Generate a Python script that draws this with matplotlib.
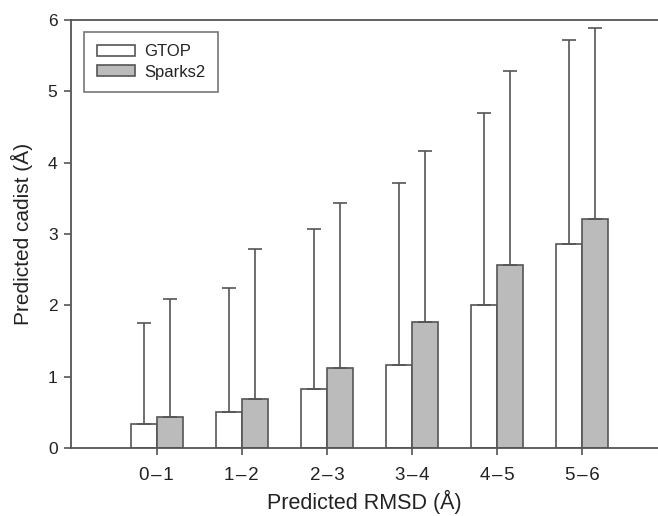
import matplotlib
matplotlib.use("Agg")
import matplotlib.pyplot as plt
import numpy as np

plt.rcParams['font.family'] = ['Liberation Sans', 'DejaVu Sans']

categories = ["0\u200a\u2013\u200a1", "1\u200a\u2013\u200a2", "2\u200a\u2013\u200a3",
              "3\u200a\u2013\u200a4", "4\u200a\u2013\u200a5", "5\u200a\u2013\u200a6"]
gtop = [0.34, 0.50, 0.83, 1.16, 2.00, 2.86]
sparks2 = [0.43, 0.68, 1.12, 1.76, 2.57, 3.21]
# upper ends of the error bars
gtop_top = [1.75, 2.24, 3.07, 3.72, 4.69, 5.72]
sparks2_top = [2.09, 2.79, 3.43, 4.16, 5.29, 5.89]

edge = "#555555"
txt = "#222222"
x = np.arange(len(categories))
w = 0.305

fig = plt.figure(figsize=(6.58, 5.16), dpi=100)
ax = fig.add_axes([0.1075, 0.1318, 0.8925, 0.8294])

gtop_err = [np.zeros(len(gtop)), np.array(gtop_top) - np.array(gtop)]
sp_err = [np.zeros(len(sparks2)), np.array(sparks2_top) - np.array(sparks2)]

ekw = dict(ecolor=edge, elinewidth=1.2, capsize=5, capthick=1.2)
ax.bar(x - w / 2, gtop, w, color="white", edgecolor=edge, linewidth=1.2,
       yerr=gtop_err, error_kw=ekw, label="GTOP", zorder=2)
ax.bar(x + w / 2, sparks2, w, color="#bbbbbb", edgecolor=edge, linewidth=1.2,
       yerr=sp_err, error_kw=ekw, label="Sparks2", zorder=2)

ax.set_xlim(-1.01, 5.89)
ax.set_ylim(0, 6)
ax.set_xticks(x)
ax.set_xticklabels(categories, fontsize=13.5, color=txt)
ax.set_yticks(range(0, 7))
ax.tick_params(axis="y", labelsize=12.5, labelcolor=txt, direction="out",
               length=5, width=1.2, color=edge, pad=4.5)
ax.tick_params(axis="x", direction="out", length=5, width=1.2, color=edge, pad=9)

for s in ["left", "bottom", "top"]:
    ax.spines[s].set_color(edge)
    ax.spines[s].set_linewidth(1.3)
ax.spines["right"].set_visible(False)

ax.set_xlabel("Predicted RMSD (\u00c5)", fontsize=15.5, color=txt, labelpad=4)
ax.set_ylabel("Predicted cadist (\u00c5)", fontsize=15, color=txt, labelpad=11)

leg = ax.legend(loc="upper left", bbox_to_anchor=(84 / 658, 1 - 32 / 516),
                bbox_transform=fig.transFigure, fontsize=12,
                frameon=True, fancybox=False, edgecolor=edge, borderpad=0.75,
                handlelength=2.3, handleheight=0.65, handletextpad=0.55,
                labelspacing=0.3, borderaxespad=0)
leg.get_frame().set_linewidth(1.2)
for t in leg.get_texts():
    t.set_color(txt)

fig.savefig("out.png", dpi=100)
